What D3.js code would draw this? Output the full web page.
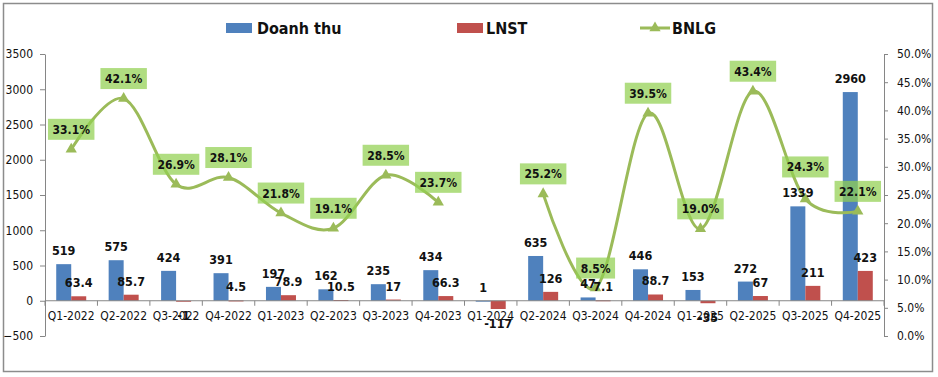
<!DOCTYPE html>
<html>
<head>
<meta charset="UTF-8">
<script src="https://d3js.org/d3.v7.min.js"></script>
<style>
  body { margin: 0; background: #fff; }
  text { font-family: "DejaVu Sans Condensed", "DejaVu Sans", sans-serif; fill: #111; }
</style>
</head>
<body>
<script>
// data
var quarters = ["Q1-2022","Q2-2022","Q3-2022","Q4-2022","Q1-2023","Q2-2023","Q3-2023","Q4-2023",
                "Q1-2024","Q2-2024","Q3-2024","Q4-2024","Q1-2025","Q2-2025","Q3-2025","Q4-2025"];
var doanhThu = [519, 575, 424, 391, 197, 162, 235, 434, 1, 635, 47, 446, 153, 272, 1339, 2960];
var lnst = [63.4, 85.7, -1, 4.5, 78.9, 10.5, 17, 66.3, -117, 126, 7.1, 88.7, -35, 67, 211, 423];
var bnlg = [0.331, 0.421, 0.269, 0.281, 0.218, 0.191, 0.285, 0.237, null, 0.252, 0.085, 0.395, 0.190, 0.434, 0.243, 0.221];
var leftTicks = [-500, 0, 500, 1000, 1500, 2000, 2500, 3000, 3500];
var rightTicks = [0, 0.05, 0.10, 0.15, 0.20, 0.25, 0.30, 0.35, 0.40, 0.45, 0.50];

var W = 938, H = 377;
var blue = "#4F81BD", red = "#C0504D", green = "#9BBB59";

var svg = d3.select("body").append("svg")
    .attr("width", W)
    .attr("height", H);

// outer frame
svg.append("rect")
    .attr("x", 3.5).attr("y", 3.5)
    .attr("width", 929).attr("height", 368)
    .attr("fill", "#fff")
    .attr("stroke", "#8c8c8c")
    .attr("stroke-width", 1.5);

var x = d3.scaleBand().domain(quarters).range([45, 884]);
var yL = d3.scaleLinear().domain([-500, 3500]).range([336, 54]);
var yR = d3.scaleLinear().domain([0, 0.5]).range([336, 54]);
var bw = 15;

// left axis
var gl = svg.append("g")
    .attr("transform", "translate(45,0)")
    .call(d3.axisLeft(yL).tickValues(leftTicks).tickSize(5).tickPadding(7).tickSizeOuter(0)
      .tickFormat(d3.format("d")));
gl.select(".domain").attr("stroke", "#868686");
gl.selectAll(".tick line").attr("stroke", "#868686");
gl.selectAll(".tick text").style("font-size", "12px").attr("fill", "#111");

// right axis
var gr = svg.append("g")
    .attr("transform", "translate(884,0)")
    .call(d3.axisRight(yR).tickValues(rightTicks).tickSize(4).tickPadding(9).tickSizeOuter(0)
      .tickFormat(d3.format(".1%")));
gr.select(".domain").attr("stroke", "#868686");
gr.selectAll(".tick line").attr("stroke", "#868686");
gr.selectAll(".tick text").style("font-size", "12px").attr("fill", "#111");

// bars
var bars = svg.append("g");
bars.selectAll("rect.dt")
  .data(doanhThu)
  .enter().append("rect")
    .attr("class", "dt")
    .attr("x", function(d, i) { return x(quarters[i]) + x.bandwidth() / 2 - bw; })
    .attr("y", function(d) { return yL(Math.max(0, d)); })
    .attr("width", bw)
    .attr("height", function(d) { return Math.max(1, Math.abs(yL(d) - yL(0))); })
    .attr("fill", blue);
bars.selectAll("rect.ln")
  .data(lnst)
  .enter().append("rect")
    .attr("class", "ln")
    .attr("x", function(d, i) { return x(quarters[i]) + x.bandwidth() / 2; })
    .attr("y", function(d) { return yL(Math.max(0, d)); })
    .attr("width", bw)
    .attr("height", function(d) { return Math.max(1, Math.abs(yL(d) - yL(0))); })
    .attr("fill", red);

// category axis on zero line
var y0 = yL(0);
var gx = svg.append("g");
gx.append("line")
    .attr("x1", 45).attr("x2", 884)
    .attr("y1", y0).attr("y2", y0)
    .attr("stroke", "#868686");
gx.selectAll("line.tk")
  .data(quarters.concat(["end"]))
  .enter().append("line")
    .attr("class", "tk")
    .attr("x1", function(d, i) { return 45 + i * x.step(); })
    .attr("x2", function(d, i) { return 45 + i * x.step(); })
    .attr("y1", y0).attr("y2", y0 + 5)
    .attr("stroke", "#868686");
gx.selectAll("text")
  .data(quarters)
  .enter().append("text")
    .attr("x", function(d) { return x(d) + x.bandwidth() / 2; })
    .attr("y", y0 + 19)
    .attr("text-anchor", "middle")
    .style("font-size", "12px")
    .text(function(d) { return d; });

// BNLG smooth line
var line = d3.line()
    .defined(function(d) { return d != null; })
    .x(function(d, i) { return x(quarters[i]) + x.bandwidth() / 2; })
    .y(function(d) { return yR(d); })
    .curve(d3.curveCardinal.tension(0));

svg.append("path")
    .datum(bnlg)
    .attr("d", line)
    .attr("fill", "none")
    .attr("stroke", green)
    .attr("stroke-width", 3);

var tri = d3.symbol().type(d3.symbolTriangle).size(55);
var pts = bnlg.map(function(v, i) { return {v: v, q: quarters[i], i: i}; })
    .filter(function(d) { return d.v != null; });
svg.selectAll("path.mk")
  .data(pts)
  .enter().append("path")
    .attr("class", "mk")
    .attr("d", tri)
    .attr("transform", function(d) { return "translate(" + (x(d.q) + x.bandwidth() / 2) + "," + yR(d.v) + ")"; })
    .attr("fill", green);

// bar labels
var lab = svg.append("g").style("font-size", "12.5px").style("font-weight", "bold");
function barLabel(arr, off, fmt) {
  lab.selectAll(null)
    .data(arr)
    .enter().append("text")
      .attr("x", function(d, i) { return x(quarters[i]) + x.bandwidth() / 2 + off; })
      .attr("y", function(d) { return d >= 0 ? yL(d) - 9 : yL(d) + 19; })
      .attr("text-anchor", "middle")
      .text(fmt);
}
barLabel(doanhThu, -bw / 2, function(d) { return d; });
barLabel(lnst, bw / 2, function(d) { return d; });

// BNLG labels with green boxes (Q3-2025 label was lifted higher in the original)
var pl = svg.append("g").selectAll("g")
  .data(pts)
  .enter().append("g")
    .attr("transform", function(d) {
      var dy = d.q === "Q3-2025" ? -32 : -20;
      return "translate(" + (x(d.q) + x.bandwidth() / 2) + "," + (yR(d.v) + dy) + ")";
    });
pl.append("text")
    .attr("text-anchor", "middle")
    .attr("y", 4.5)
    .style("font-size", "12px")
    .style("font-weight", "bold")
    .text(function(d) { return d3.format(".1%")(d.v); });
pl.each(function() {
  var g = d3.select(this);
  var w = g.select("text").node().getComputedTextLength() + 9;
  g.insert("rect", "text")
    .attr("x", -w / 2).attr("y", -10.5)
    .attr("width", w).attr("height", 21)
    .attr("fill", "#92D050")
    .attr("fill-opacity", 0.72);
});

// legend
var lg = svg.append("g").style("font-size", "16px").style("font-weight", "bold");
lg.append("rect").attr("x", 226).attr("y", 23).attr("width", 26).attr("height", 10).attr("fill", blue);
lg.append("text").attr("x", 257).attr("y", 34).text("Doanh thu");
lg.append("rect").attr("x", 457).attr("y", 23).attr("width", 26).attr("height", 10).attr("fill", red);
lg.append("text").attr("x", 486).attr("y", 34).text("LNST");
lg.append("line").attr("x1", 640).attr("x2", 670).attr("y1", 28).attr("y2", 28)
    .attr("stroke", green).attr("stroke-width", 3);
lg.append("path").attr("d", tri).attr("transform", "translate(655,28)").attr("fill", green);
lg.append("text").attr("x", 672).attr("y", 34).text("BNLG");
</script>
</body>
</html>
